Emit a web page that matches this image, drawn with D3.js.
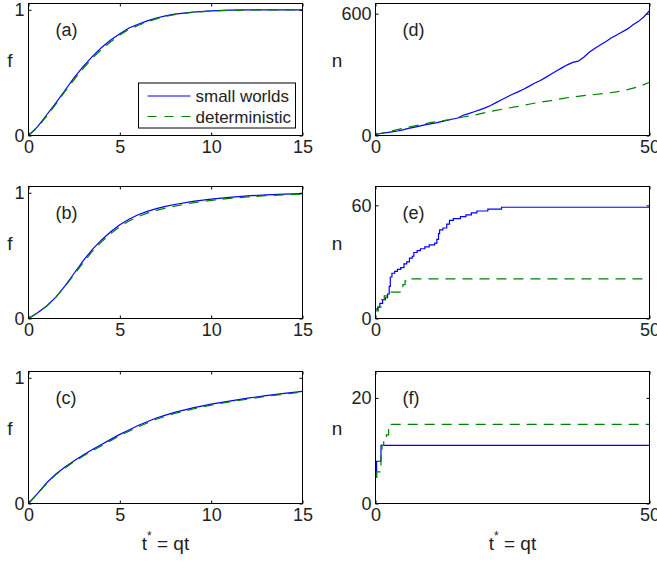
<!DOCTYPE html>
<html>
<head>
<meta charset="utf-8">
<script src="https://cdn.jsdelivr.net/npm/d3@7"></script>
<style>
  body { margin: 0; background: #fff; }
  svg { display: block; font-family: "Liberation Sans", Arial, Helvetica, sans-serif; }
</style>
</head>
<body>
<div id="chart"></div>
<script>
// time grid for the f panels (a)-(c)
var tF = [0, 0.5, 1, 1.5, 2, 2.5, 3, 3.5, 4, 4.5, 5, 5.5, 6, 6.5, 7, 7.5, 8, 9, 10, 11, 12, 13, 14, 15];

var fSmallA = [0, 0.07, 0.165, 0.26, 0.36, 0.46, 0.55, 0.63, 0.70, 0.76, 0.81, 0.855, 0.885, 0.912, 0.935, 0.952, 0.965, 0.982, 0.992, 0.997, 0.999, 1, 1, 1];
var fDetA   = [0, 0.065, 0.155, 0.25, 0.35, 0.445, 0.535, 0.615, 0.685, 0.745, 0.80, 0.845, 0.875, 0.905, 0.928, 0.947, 0.962, 0.98, 0.99, 0.996, 0.998, 0.999, 1, 1];

var fSmallB = [0, 0.045, 0.1, 0.17, 0.26, 0.36, 0.46, 0.55, 0.625, 0.69, 0.745, 0.79, 0.825, 0.852, 0.874, 0.892, 0.907, 0.932, 0.95, 0.964, 0.975, 0.983, 0.989, 0.993];
var fDetB   = [0, 0.045, 0.1, 0.17, 0.255, 0.35, 0.445, 0.535, 0.61, 0.675, 0.73, 0.775, 0.81, 0.838, 0.86, 0.878, 0.894, 0.92, 0.94, 0.955, 0.967, 0.977, 0.984, 0.99];

var fSmallC = [0, 0.08, 0.165, 0.235, 0.29, 0.34, 0.385, 0.43, 0.47, 0.51, 0.55, 0.585, 0.62, 0.65, 0.68, 0.703, 0.725, 0.76, 0.79, 0.815, 0.838, 0.858, 0.876, 0.892];
var fDetC   = [0, 0.078, 0.16, 0.23, 0.283, 0.333, 0.377, 0.42, 0.46, 0.5, 0.54, 0.575, 0.61, 0.64, 0.67, 0.694, 0.716, 0.752, 0.782, 0.808, 0.831, 0.852, 0.87, 0.886];

// panel (d)
var tSmallD = [0, 1, 2, 3, 4, 5, 6, 7, 8, 9, 10, 11, 12, 13, 14, 15, 16, 17, 18, 19, 20, 21, 22, 23, 24, 25,
  26, 27, 28, 29, 30, 31, 32, 33, 34, 35, 36, 37, 38, 39, 40, 41, 42, 43, 44, 45, 46, 47, 48, 49, 50];
var nSmallD = [5, 10, 14, 18, 22, 28, 35, 40, 46, 52, 57, 62, 68, 74, 80, 86, 100, 108, 117, 126, 136, 148, 162, 176, 190, 203,
  215, 228, 242, 257, 270, 285, 302, 318, 333, 348, 360, 366, 385, 410, 428, 446, 462, 480, 495, 510, 525, 545, 562, 585, 615];
var tDetD = [0, 2, 4, 6, 8, 10, 12, 14, 16, 18, 20, 22, 24, 26, 28, 30, 32, 34, 36, 38, 40, 42, 44, 46, 48, 50];
var nDetD = [5, 17, 29, 41, 52, 63, 72, 81, 91, 100, 113, 124, 134, 143, 154, 164, 172, 182, 190, 196, 202, 208, 215, 226, 240, 262];

// panel (e), staircase counts
var tSmallE = [0, 0.4, 0.8, 1.3, 1.8, 2.2, 2.5, 2.7, 3.0, 3.5, 4.0, 4.6, 5.2, 5.7, 6.2, 6.7, 7.0, 7.6, 8.2, 9.0, 9.8, 10.8,
  11.2, 11.5, 11.7, 12.3, 13.0, 13.5, 14.2, 15.5, 16.5, 17.5, 18.5, 20.5, 23, 50];
var nSmallE = [5, 6, 8, 10, 11, 13, 17, 22, 24, 25, 26, 27, 29, 30, 32, 33, 35, 36, 37, 38, 39, 40,
  42, 45, 47, 48, 50, 52, 53, 54, 55, 56, 57, 58, 59, 59];
var tDetE = [0, 0.5, 1.0, 1.6, 2.1, 4.2, 4.6, 5.0, 5.4, 5.8, 50];
var nDetE = [4, 6, 10, 12, 14, 14, 16, 18, 20, 21, 21];

// panel (f)
var tSmallF = [0, 0.2, 1.0, 50];
var nSmallF = [5, 8, 11, 11];
var tDetF = [0, 0.2, 0.8, 1.0, 1.2, 1.5, 2.0, 2.4, 2.7, 50];
var nDetF = [5, 6, 7, 10, 11, 12, 13, 14, 15, 15];

var legendLabels = ['small worlds', 'deterministic'];

var W = 657, H = 562;
var colLeft = [28.5, 375.5];
var rowTop = [3.5, 186.5, 371.5];
var pw = 274, ph = 132;
var blue = '#0000ff', green = '#008000';
var dash = '10,7';

var svg = d3.select('#chart')
  .append('svg')
  .attr('width', W)
  .attr('height', H);

svg.append('rect')
  .attr('width', W)
  .attr('height', H)
  .attr('fill', 'white');

function zip(xs, ys) {
  return xs.map(function(x, i) { return [x, ys[i]]; });
}

function make_panel(p) {
  var g = svg.append('g')
    .attr('transform', 'translate(' + p.x0 + ',' + p.y0 + ')');

  var x = d3.scaleLinear().domain(p.xdom).range([0, pw]);
  var y = d3.scaleLinear().domain(p.ydom).range([ph, 0]);

  var line = d3.line()
    .x(function(d) { return x(d[0]); })
    .y(function(d) { return y(d[1]); })
    .curve(p.step ? d3.curveStepAfter : d3.curveLinear);

  // clip so nothing spills past the box
  var cid = 'clip_' + p.name;
  g.append('clipPath').attr('id', cid)
    .append('rect').attr('width', pw).attr('height', ph);

  var lines = g.append('g').attr('clip-path', 'url(#' + cid + ')');
  lines.append('path')
    .datum(zip(p.tS, p.nS))
    .attr('d', line)
    .attr('fill', 'none')
    .attr('stroke', blue)
    .attr('stroke-width', 1.2);
  lines.append('path')
    .datum(zip(p.tD, p.nD))
    .attr('d', line)
    .attr('fill', 'none')
    .attr('stroke', green)
    .attr('stroke-width', 1.2)
    .attr('stroke-dasharray', dash);

  // axes, ticks point inward on all four sides
  var bottom = g.append('g')
    .attr('transform', 'translate(0,' + ph + ')')
    .call(d3.axisBottom(x).tickValues(p.xticks).tickSize(-3).tickPadding(5).tickFormat(d3.format('d')));
  var left = g.append('g')
    .call(d3.axisLeft(y).tickValues(p.yticks).tickSize(-3).tickPadding(4).tickFormat(d3.format('d')));
  var top = g.append('g')
    .call(d3.axisTop(x).tickValues(p.xticks).tickSize(-3).tickFormat(''));
  var right = g.append('g')
    .attr('transform', 'translate(' + pw + ',0)')
    .call(d3.axisRight(y).tickValues(p.yticks).tickSize(-3).tickFormat(''));

  [bottom, left, top, right].forEach(function(a) {
    a.select('.domain').remove();
    a.selectAll('line').attr('stroke', '#000');
    a.selectAll('text')
      .attr('fill', '#222')
      .style('font-size', '18px')
      .style('font-family', '"Liberation Sans", Arial, sans-serif');
  });

  g.append('rect')
    .attr('width', pw)
    .attr('height', ph)
    .attr('fill', 'none')
    .attr('stroke', '#000')
    .attr('stroke-width', 1);

  // panel letter
  g.append('text')
    .attr('x', 27)
    .attr('y', 32)
    .attr('fill', '#222')
    .style('font-size', '18px')
    .text('(' + p.name + ')');

  // y label, not rotated
  svg.append('text')
    .attr('x', p.ylabX)
    .attr('y', p.y0 + ph / 2 - 3)
    .attr('text-anchor', 'middle')
    .attr('fill', '#222')
    .style('font-size', '19px')
    .text(p.ylab);

  return g;
}

var panels = [
  {name: 'a', x0: colLeft[0], y0: rowTop[0], xdom: [0, 15], ydom: [0, 1.05], xticks: [0, 5, 10, 15], yticks: [0, 1],
    tS: tF, nS: fSmallA, tD: tF, nD: fDetA, ylab: 'f', ylabX: 10},
  {name: 'b', x0: colLeft[0], y0: rowTop[1], xdom: [0, 15], ydom: [0, 1.05], xticks: [0, 5, 10, 15], yticks: [0, 1],
    tS: tF, nS: fSmallB, tD: tF, nD: fDetB, ylab: 'f', ylabX: 10},
  {name: 'c', x0: colLeft[0], y0: rowTop[2], xdom: [0, 15], ydom: [0, 1.05], xticks: [0, 5, 10, 15], yticks: [0, 1],
    tS: tF, nS: fSmallC, tD: tF, nD: fDetC, ylab: 'f', ylabX: 10},
  {name: 'd', x0: colLeft[1], y0: rowTop[0], xdom: [0, 50], ydom: [0, 650], xticks: [0, 50], yticks: [0, 600],
    tS: tSmallD, nS: nSmallD, tD: tDetD, nD: nDetD, ylab: 'n', ylabX: 337},
  {name: 'e', x0: colLeft[1], y0: rowTop[1], xdom: [0, 50], ydom: [0, 70], xticks: [0, 50], yticks: [0, 60],
    tS: tSmallE, nS: nSmallE, tD: tDetE, nD: nDetE, ylab: 'n', ylabX: 337, step: true},
  {name: 'f', x0: colLeft[1], y0: rowTop[2], xdom: [0, 50], ydom: [0, 25], xticks: [0, 50], yticks: [0, 20],
    tS: tSmallF, nS: nSmallF, tD: tDetF, nD: nDetF, ylab: 'n', ylabX: 337, step: true}
];

var groups = panels.map(make_panel);

// legend inside (a)
var leg = groups[0].append('g')
  .attr('transform', 'translate(110,79.5)');
leg.append('rect')
  .attr('width', 157)
  .attr('height', 45)
  .attr('fill', 'white')
  .attr('stroke', '#000');
leg.selectAll('line.key')
  .data(legendLabels)
  .enter()
  .append('line')
  .attr('class', 'key')
  .attr('x1', 9)
  .attr('x2', 52)
  .attr('y1', function(d, i) { return 13 + i * 20.5; })
  .attr('y2', function(d, i) { return 13 + i * 20.5; })
  .attr('stroke', function(d, i) { return i === 0 ? blue : green; })
  .attr('stroke-width', 1.2)
  .attr('stroke-dasharray', function(d, i) { return i === 0 ? null : '9,8'; });
leg.selectAll('text.key')
  .data(legendLabels)
  .enter()
  .append('text')
  .attr('class', 'key')
  .attr('x', 57)
  .attr('y', function(d, i) { return 19 + i * 20.5; })
  .attr('fill', '#222')
  .style('font-size', '17px')
  .text(function(d) { return d; });

// x labels under the bottom row
[colLeft[0] + pw / 2, colLeft[1] + pw / 2].forEach(function(cx) {
  var t = svg.append('text')
    .attr('x', cx)
    .attr('y', 550)
    .attr('text-anchor', 'middle')
    .attr('fill', '#222')
    .style('font-size', '19px');
  t.append('tspan').text('t');
  t.append('tspan').attr('dy', -10).style('font-size', '12px').text('*');
  t.append('tspan').attr('dy', 10).text(' = qt');
});
</script>
</body>
</html>
